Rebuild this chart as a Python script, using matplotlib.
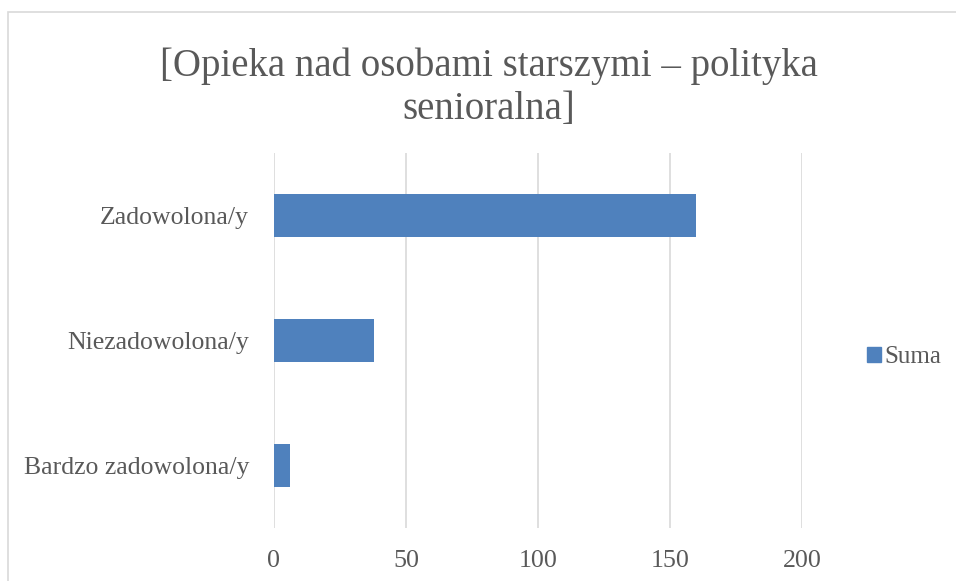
import matplotlib
matplotlib.use("Agg")
import matplotlib.pyplot as plt
from matplotlib.patches import Rectangle, Patch

categories = ["Bardzo zadowolona/y", "Niezadowolona/y", "Zadowolona/y"]
values = [6, 38, 160]
series_name = "Suma"
xticks = [0, 50, 100, 150, 200]
title = "[Opieka nad osobami starszymi – polityka\nsenioralna]"

W, H = 956, 581
fig = plt.figure(figsize=(W / 100, H / 100), dpi=100)
font = ["Liberation Serif", "DejaVu Serif"]
txt = "#595959"
grid = "#D9D9D9"
blue = "#4F81BD"

# chart frame
fig.patches.append(Rectangle((8 / W, -0.05), 1.2, (H - 12) / H + 0.05,
                             transform=fig.transFigure, fill=False,
                             edgecolor=grid, linewidth=1.2))

ax = fig.add_axes([274 / W, 1 - 528 / H, (802 - 274) / W, (528 - 153) / H])
ypos = list(range(len(categories)))
ax.barh(ypos, values, height=0.35, color=blue, label=series_name, zorder=3)
ax.set_xlim(0, 200)
ax.set_ylim(-0.5, len(categories) - 0.5)
ax.set_xticks(xticks)
ax.set_xticklabels([str(t) for t in xticks], fontfamily=font, fontsize=18.7, color=txt)
ax.set_yticks(ypos)
ax.set_yticklabels(categories, fontfamily=font, fontsize=18.5, color=txt)
ax.tick_params(axis="both", length=0)
ax.tick_params(axis="x", pad=16)
ax.tick_params(axis="y", pad=18)
ax.grid(axis="x", color=grid, linewidth=1.2, zorder=0)
for s in ax.spines.values():
    s.set_visible(False)

fig.text(489 / W, 1 - 88 / H, title, ha="center", va="center",
         fontfamily=font, fontsize=28, color=txt, linespacing=1.2)

leg = fig.legend(handles=[Patch(color=blue, label=series_name)],
                 loc="center left", bbox_to_anchor=(862 / W, 1 - 357 / H),
                 frameon=False, prop={"family": font, "size": 18},
                 handlelength=0.55, handleheight=0.55, handletextpad=0.15,
                 labelcolor=txt, borderpad=0.2, borderaxespad=0)

fig.savefig("out.png", dpi=100)
